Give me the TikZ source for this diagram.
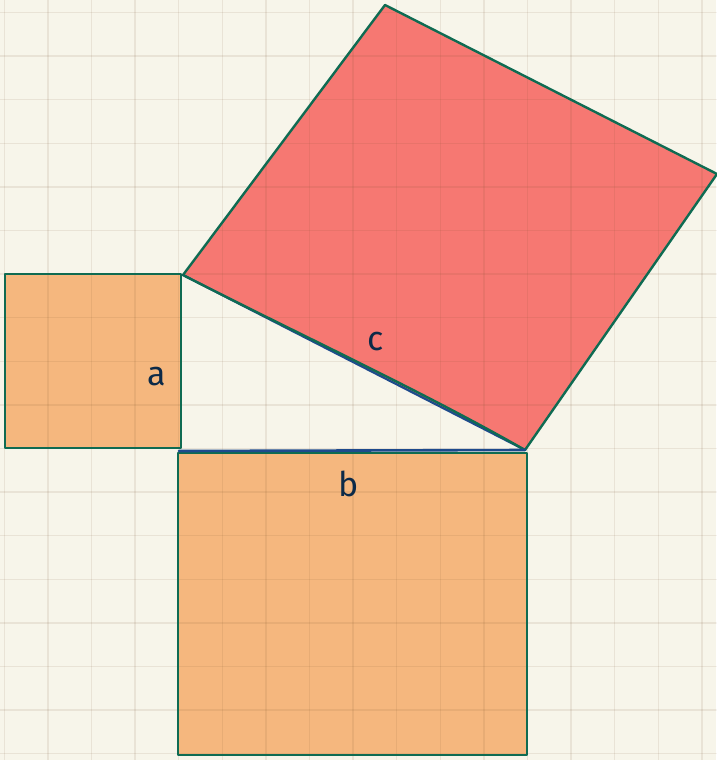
\documentclass[tikz,border=0pt]{standalone}
\usepackage{fontspec}
\setsansfont{Fira Sans}
\definecolor{bg}{HTML}{F7F5EA}
\definecolor{redfill}{HTML}{F67872}
\definecolor{orangefill}{HTML}{F5B77E}
\definecolor{edge}{HTML}{0F6B52}
\definecolor{blueedge}{HTML}{1E4A8C}
\definecolor{ink}{HTML}{0C2A48}
\tikzset{
  gridline/.style={draw=brown!60!black, draw opacity=0.1, line width=1.5pt},
  outline/.style={draw=edge, line width=2.4pt},
  bluestroke/.style={draw=blueedge, line width=2.2pt},
  label/.style={text=ink, font=\sffamily\fontsize{34}{34}\selectfont, inner sep=0pt}
}
\begin{document}
\begin{tikzpicture}[x=1pt,y=-1pt,line join=round,line cap=round]
\useasboundingbox (0,0) rectangle (716,760);
\fill[bg] (0,0) rectangle (716,760);
% corner coordinates
\coordinate (A) at (183,275);
\coordinate (T) at (385,5);
\coordinate (R) at (717,174);
\coordinate (B) at (525,450);
% fills
\fill[redfill] (A) -- (T) -- (R) -- (B) -- cycle;
\fill[orangefill] (5,274) rectangle (181,448);
\fill[orangefill] (178,453) rectangle (527,755);
% grid
\foreach \i in {0,...,16} {
  \draw[gridline] ({4.3+43.6*\i},0) -- ({4.3+43.6*\i},760);
}
\foreach \j in {0,...,17} {
  \draw[gridline] (0,{12.5+43.6*\j}) -- (716,{12.5+43.6*\j});
}
% red square outline
\draw[outline] (A) -- (T) -- (R) -- (B);
\draw[bluestroke] (A) -- (B);
\draw[outline] (A) .. controls (300,335) and (420,390) .. (B);
% square a
\draw[outline] (5,274) rectangle (181,448);
% square b
\draw[outline] (178,453) rectangle (527,755);
\draw[bluestroke, line width=2.6pt] (179,451) -- (B);
% labels
\node[label] (la) at (157,377) {a};
\node[label] (lc) at (376,342) {c};
\node[label] (lb) at (349,484) {b};
\end{tikzpicture}
\end{document}
